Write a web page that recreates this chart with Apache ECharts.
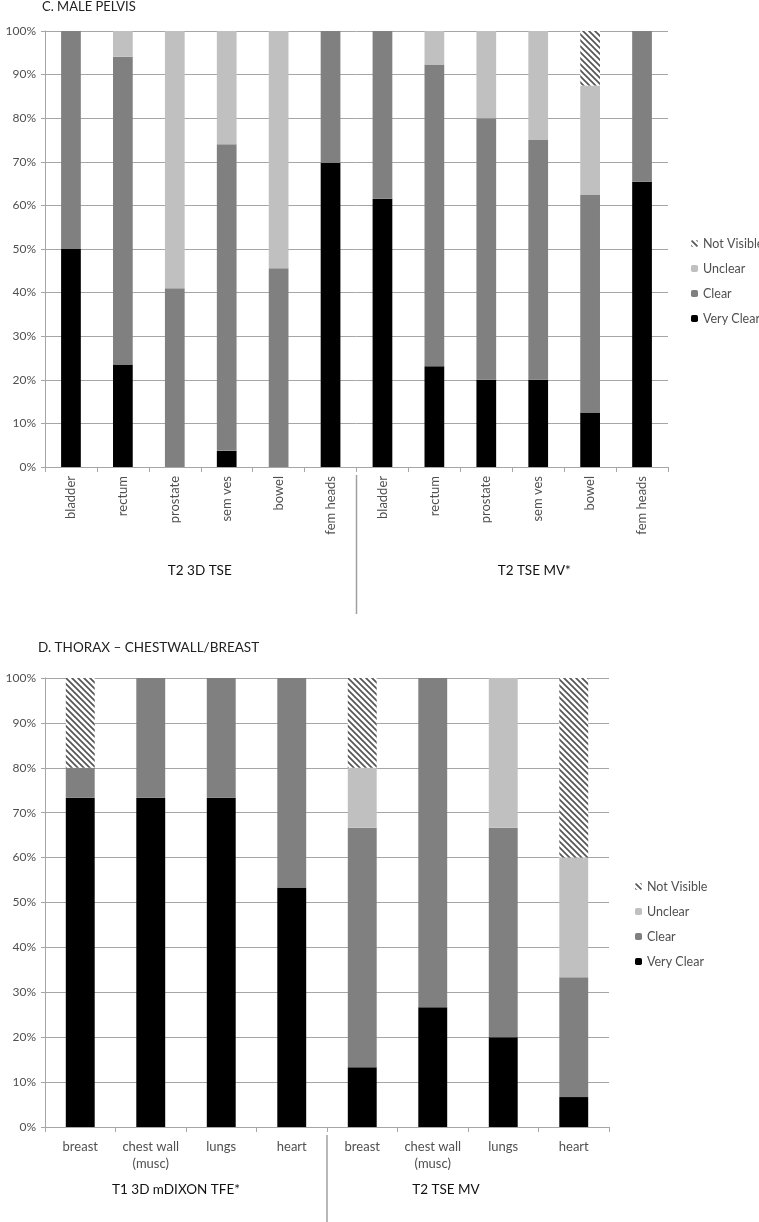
<!DOCTYPE html>
<html>
<head>
<meta charset="utf-8">
<script src="https://cdn.jsdelivr.net/npm/echarts@6/dist/echarts.min.js"></script>
<style>
html,body{margin:0;padding:0;background:#fff;}
#chart{width:759px;height:1222px;}
</style>
</head>
<body>
<div id="chart"></div>
<script>
// ---------- DATA ----------
const statusNames = ['Very Clear', 'Clear', 'Unclear', 'Not Visible'];
const legendOrder = ['Not Visible', 'Unclear', 'Clear', 'Very Clear'];
const yTickValues = [0, 10, 20, 30, 40, 50, 60, 70, 80, 90, 100];

const pelvisTitle = 'C. MALE PELVIS';
const pelvisCategories = ['bladder', 'rectum', 'prostate', 'sem ves', 'bowel', 'fem heads',
                          'bladder', 'rectum', 'prostate', 'sem ves', 'bowel', 'fem heads'];
const pelvisGroups = ['T2 3D TSE', 'T2 TSE MV*'];
const pelvisVeryClear  = [50, 23.5, 0, 3.7, 0, 69.8, 61.5, 23.1, 20, 20, 12.5, 65.4];
const pelvisClear      = [50, 70.6, 41, 70.3, 45.6, 30.2, 38.5, 69.2, 60, 55, 50, 34.6];
const pelvisUnclear    = [0, 5.9, 59, 26, 54.4, 0, 0, 7.7, 20, 25, 25, 0];
const pelvisNotVisible = [0, 0, 0, 0, 0, 0, 0, 0, 0, 0, 12.5, 0];

const thoraxTitle = 'D. THORAX \u2013 CHESTWALL/BREAST';
const thoraxCategories = ['breast', 'chest wall\n(musc)', 'lungs', 'heart',
                          'breast', 'chest wall\n(musc)', 'lungs', 'heart'];
const thoraxGroups = ['T1 3D mDIXON TFE*', 'T2 TSE MV'];
const thoraxVeryClear  = [73.33, 73.33, 73.33, 53.33, 13.33, 26.67, 20, 6.67];
const thoraxClear      = [6.67, 26.67, 26.67, 46.67, 53.33, 73.33, 46.67, 26.67];
const thoraxUnclear    = [0, 0, 0, 0, 13.33, 0, 33.33, 26.67];
const thoraxNotVisible = [20, 0, 0, 0, 20, 0, 0, 40];

// ---------- STYLE ----------
const FONT = 'Lato, "Open Sans", sans-serif';
const GRID_COLOR = '#a6a6a6';
const LABEL_COLOR = '#505050';

function hatchPattern() {
  const s = 6;
  const c = document.createElement('canvas');
  c.width = s; c.height = s;
  const g = c.getContext('2d');
  g.fillStyle = '#ffffff';
  g.fillRect(0, 0, s, s);
  g.strokeStyle = '#555555';
  g.lineWidth = 1.7;
  g.beginPath();
  g.moveTo(-2, -2); g.lineTo(s + 2, s + 2);
  g.moveTo(-2, s - 2); g.lineTo(2, s + 2);
  g.moveTo(s - 2, -2); g.lineTo(s + 2, 2);
  g.stroke();
  return c;
}
const hatch = { image: hatchPattern(), repeat: 'repeat' };
const statusColors = { 'Very Clear': '#000000', 'Clear': '#808080', 'Unclear': '#c0c0c0', 'Not Visible': hatch };

const G1 = { left: 45, top: 31, width: 623, height: 436 };
const G2 = { left: 45, top: 678, width: 564, height: 449 };

function yAxis(gridIndex) {
  return {
    type: 'value', gridIndex: gridIndex, min: 0, max: 100, interval: 10,
    axisLine: { show: true, lineStyle: { color: GRID_COLOR } },
    axisTick: { show: true, length: 4, lineStyle: { color: GRID_COLOR } },
    splitLine: { show: true, lineStyle: { color: GRID_COLOR, width: 1 } },
    axisLabel: { formatter: '{value}%', color: LABEL_COLOR, fontFamily: FONT, fontSize: 12, margin: 9 }
  };
}

function seriesFor(gridIndex, stack, barWidth, arrays) {
  return statusNames.map(function (name, i) {
    return {
      name: name, type: 'bar', stack: stack,
      xAxisIndex: gridIndex, yAxisIndex: gridIndex,
      barWidth: barWidth,
      itemStyle: { color: statusColors[name] },
      emphasis: { disabled: true },
      data: arrays[i]
    };
  });
}

const option = {
  animation: false,
  backgroundColor: '#ffffff',
  title: [
    { text: pelvisTitle, left: 42, top: 0, padding: 0, textStyle: { fontFamily: FONT, fontSize: 13, fontWeight: 'normal', color: '#222' } },
    { text: thoraxTitle, left: 38, top: 641, padding: 0, textStyle: { fontFamily: FONT, fontSize: 13.5, fontWeight: 'normal', color: '#222' } }
  ],
  legend: [
    { orient: 'vertical', left: 686, top: 232, itemWidth: 7, itemHeight: 7, itemGap: 12,
      data: legendOrder, textStyle: { fontFamily: FONT, fontSize: 12.5, color: LABEL_COLOR }, selectedMode: false },
    { orient: 'vertical', left: 630, top: 875, itemWidth: 7, itemHeight: 7, itemGap: 12,
      data: legendOrder, textStyle: { fontFamily: FONT, fontSize: 12.5, color: LABEL_COLOR }, selectedMode: false }
  ],
  grid: [
    Object.assign({ containLabel: false }, G1),
    Object.assign({ containLabel: false }, G2)
  ],
  xAxis: [
    { type: 'category', gridIndex: 0, data: pelvisCategories,
      axisLine: { lineStyle: { color: GRID_COLOR } },
      axisTick: { show: true, length: 5, lineStyle: { color: GRID_COLOR } },
      axisLabel: { rotate: 90, interval: 0, color: LABEL_COLOR, fontFamily: FONT, fontSize: 13, margin: 9 } },
    { type: 'category', gridIndex: 1, data: thoraxCategories,
      axisLine: { lineStyle: { color: GRID_COLOR } },
      axisTick: { show: true, length: 5, lineStyle: { color: GRID_COLOR } },
      axisLabel: { interval: 0, color: LABEL_COLOR, fontFamily: FONT, fontSize: 13, margin: 11, lineHeight: 17 } }
  ],
  yAxis: [yAxis(0), yAxis(1)],
  series: [].concat(
    seriesFor(0, 'pelvis', '38%', [pelvisVeryClear, pelvisClear, pelvisUnclear, pelvisNotVisible]),
    seriesFor(1, 'thorax', '41%', [thoraxVeryClear, thoraxClear, thoraxUnclear, thoraxNotVisible])
  )
};

const chart = echarts.init(document.getElementById('chart'), null, { renderer: 'canvas' });
chart.setOption(option);

// group separators and group labels (decoration derived from grid geometry)
function groupGraphics(G, groups, sepTop, sepBottom, labelY, labelOffsets) {
  const mid = G.left + G.width / 2;
  const els = [{
    type: 'line', shape: { x1: mid, y1: sepTop, x2: mid, y2: sepBottom },
    style: { stroke: '#a0a0a0', lineWidth: 1.5 }
  }];
  groups.forEach(function (g, i) {
    const cx = G.left + G.width * (i * 2 + 1) / 4 + labelOffsets[i];
    els.push({
      type: 'text', x: cx, y: labelY,
      style: { text: g, fill: '#111', font: '13.5px ' + FONT, align: 'center', verticalAlign: 'middle' }
    });
  });
  return els;
}
chart.setOption({
  graphic: [].concat(
    groupGraphics(G1, pelvisGroups, 475, 614, 571, [-1, 22]),
    groupGraphics(G2, thoraxGroups, 1135, 1222, 1190, [-10, -22])
  )
});
</script>
</body>
</html>
